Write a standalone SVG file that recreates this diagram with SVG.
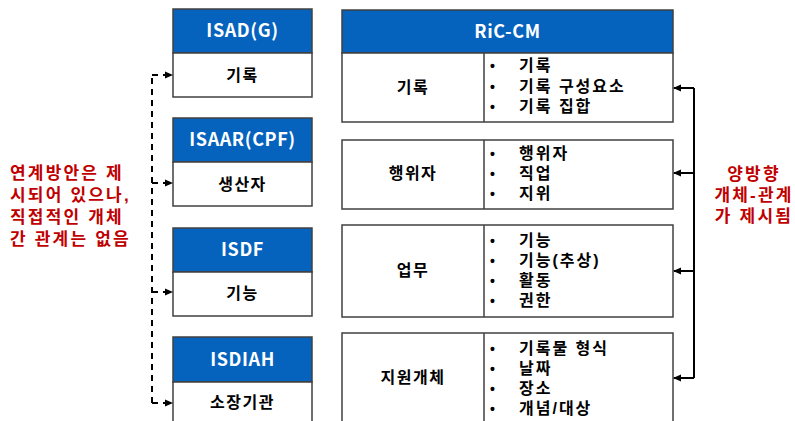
<svg xmlns="http://www.w3.org/2000/svg" width="795" height="421" viewBox="0 0 795 421">
<defs>
<marker id="ah" markerWidth="8" markerHeight="8" refX="7" refY="4" orient="auto" markerUnits="userSpaceOnUse"><path d="M0,0.5 L8,4 L0,7.5 Z" fill="#000"/></marker>
<style>
text{font-family:"Noto Sans CJK KR","Malgun Gothic",sans-serif;font-weight:bold;}
.hd{fill:#0563BE;stroke:#404040;stroke-width:1.5;}
.bx{fill:#fff;stroke:#404040;stroke-width:1.5;}
.dv{stroke:#404040;stroke-width:1.5;}
.ht{fill:#fff;font-size:18px;letter-spacing:0.6px;text-anchor:middle;}
.bt{fill:#000;font-size:16px;letter-spacing:1.5px;text-anchor:middle;}
.it{fill:#000;font-size:16px;letter-spacing:2px;font-family:"Liberation Sans","Noto Sans CJK KR",sans-serif;}
.bu{font-size:14px;letter-spacing:0;}
.rd{fill:#C00000;font-size:17px;letter-spacing:2.2px;font-family:"Liberation Sans","Noto Sans CJK KR",sans-serif;}
.dash{fill:none;stroke:#000;stroke-width:2;stroke-dasharray:6,5;}
.sol{fill:none;stroke:#000;stroke-width:2;}
</style>
</defs>
<rect width="795" height="421" fill="#fff"/>

<g id="isadg">
<rect class="hd" x="173" y="9" width="139" height="44"/>
<rect class="bx" x="173" y="53" width="139" height="44"/>
<text class="ht" x="242.5" y="37">ISAD(G)</text>
<text class="bt" x="242.5" y="81">기록</text>
</g>
<g id="isaar">
<rect class="hd" x="173" y="118" width="139" height="44"/>
<rect class="bx" x="173" y="162" width="139" height="44"/>
<text class="ht" x="242.5" y="146">ISAAR(CPF)</text>
<text class="bt" x="242.5" y="190">생산자</text>
</g>
<g id="isdf">
<rect class="hd" x="173" y="228" width="139" height="44"/>
<rect class="bx" x="173" y="272" width="139" height="44"/>
<text class="ht" x="242.5" y="256">ISDF</text>
<text class="bt" x="242.5" y="299">기능</text>
</g>
<g id="isdiah">
<rect class="hd" x="173" y="337" width="139" height="45"/>
<rect class="bx" x="173" y="382" width="139" height="50"/>
<text class="ht" x="242.5" y="366">ISDIAH</text>
<text class="bt" x="242.5" y="408">소장기관</text>
</g>

<g id="ric-cm">
<rect class="hd" x="342" y="10" width="331" height="43"/>
<text class="ht" x="507.5" y="38">RiC-CM</text>
</g>
<g id="ric-record">
<rect class="bx" x="342" y="53" width="331" height="69"/>
<line class="dv" x1="484" y1="53" x2="484" y2="122"/>
<text class="bt" x="413" y="93">기록</text>
<text class="it"><tspan class="bu" x="490" y="71">•</tspan><tspan x="519" y="71">기록</tspan><tspan class="bu" x="490" y="92">•</tspan><tspan x="519" y="92">기록 구성요소</tspan><tspan class="bu" x="490" y="112">•</tspan><tspan x="519" y="112">기록 집합</tspan></text>
</g>
<g id="ric-agent">
<rect class="bx" x="342" y="140" width="331" height="69"/>
<line class="dv" x1="484" y1="140" x2="484" y2="209"/>
<text class="bt" x="413" y="179">행위자</text>
<text class="it"><tspan class="bu" x="490" y="159">•</tspan><tspan x="519" y="159">행위자</tspan><tspan class="bu" x="490" y="179">•</tspan><tspan x="519" y="179">직업</tspan><tspan class="bu" x="490" y="199">•</tspan><tspan x="519" y="199">지위</tspan></text>
</g>
<g id="ric-function">
<rect class="bx" x="342" y="225" width="331" height="92"/>
<line class="dv" x1="484" y1="225" x2="484" y2="317"/>
<text class="bt" x="413" y="276">업무</text>
<text class="it"><tspan class="bu" x="490" y="246">•</tspan><tspan x="519" y="246">기능</tspan><tspan class="bu" x="490" y="266">•</tspan><tspan x="519" y="266">기능(추상)</tspan><tspan class="bu" x="490" y="286">•</tspan><tspan x="519" y="286">활동</tspan><tspan class="bu" x="490" y="306">•</tspan><tspan x="519" y="306">권한</tspan></text>
</g>
<g id="ric-support">
<rect class="bx" x="342" y="333" width="331" height="100"/>
<line class="dv" x1="484" y1="333" x2="484" y2="433"/>
<text class="bt" x="413" y="383">지원개체</text>
<text class="it"><tspan class="bu" x="490" y="354">•</tspan><tspan x="519" y="354">기록물 형식</tspan><tspan class="bu" x="490" y="374">•</tspan><tspan x="519" y="374">날짜</tspan><tspan class="bu" x="490" y="394">•</tspan><tspan x="519" y="394">장소</tspan><tspan class="bu" x="490" y="414">•</tspan><tspan x="519" y="414">개념/대상</tspan></text>
</g>

<g id="connectors">
<path class="dash" d="M152,403 L152,75"/>
<path class="dash" d="M152,75 L172,75" marker-end="url(#ah)"/>
<path class="dash" d="M152,183 L172,183" marker-end="url(#ah)"/>
<path class="dash" d="M152,292 L172,292" marker-end="url(#ah)"/>
<path class="dash" d="M152,403 L172,403" marker-end="url(#ah)"/>
<path class="sol" d="M694,88 L694,378"/>
<path class="sol" d="M694,88 L674,88" marker-end="url(#ah)"/>
<path class="sol" d="M694,173 L674,173" marker-end="url(#ah)"/>
<path class="sol" d="M694,271 L674,271" marker-end="url(#ah)"/>
<path class="sol" d="M694,378 L674,378" marker-end="url(#ah)"/>
</g>

<g id="left-note">
<text class="rd"><tspan x="10" y="179">연계방안은 제</tspan><tspan x="10" y="201">시되어 있으나,</tspan><tspan x="10" y="223">직접적인 개체</tspan><tspan x="10" y="245">간 관계는 없음</tspan></text>
</g>
<g id="right-note">
<text class="rd" text-anchor="middle"><tspan x="754" y="180">양방향</tspan><tspan x="754" y="201">개체-관계</tspan><tspan x="754" y="222">가 제시됨</tspan></text>
</g>
</svg>
